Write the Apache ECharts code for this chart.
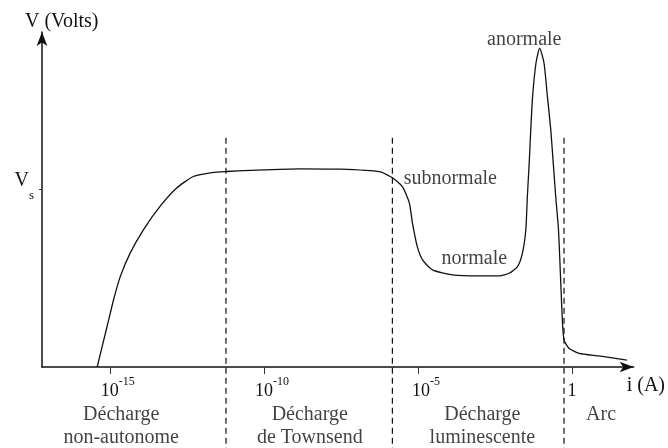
<!DOCTYPE html>
<html>
<head>
<meta charset="utf-8">
<script src="https://cdn.jsdelivr.net/npm/echarts@6/dist/echarts.min.js"></script>
<style>
  html, body { margin: 0; padding: 0; background: #fff; }
  #chart { width: 668px; height: 448px; }
</style>
</head>
<body>
<div id="chart"></div>
<script>
// x = log10 of current (decades), y = voltage in units of Vs
const currentExp = [-15.41, -15.09, -14.88, -14.66, -14.34, -13.91, -13.37, -12.83, -12.29, -11.64,
  -11.21, -10.46, -8.83, -7.54, -6.25, -5.83, -5.50, -5.28, -5.18, -5.02, -4.85, -4.53, -3.88,
  -3.01, -2.36, -2.04, -1.77, -1.61, -1.50, -1.45, -1.39, -1.34, -1.28, -1.17, -1.05, -0.91,
  -0.80, -0.69, -0.61, -0.53, -0.44, -0.37, -0.31, -0.26, -0.10, 0.23, 0.87, 1.78];
const voltage = [0, 0.226, 0.376, 0.507, 0.639, 0.770, 0.901, 1.004, 1.069, 1.092,
  1.097, 1.103, 1.112, 1.110, 1.096, 1.062, 1.011, 0.921, 0.809, 0.674, 0.601, 0.545, 0.517,
  0.511, 0.511, 0.526, 0.563, 0.639, 0.770, 0.957, 1.144, 1.331, 1.519, 1.706, 1.790, 1.706,
  1.519, 1.331, 1.144, 0.957, 0.770, 0.489, 0.245, 0.152, 0.105, 0.077, 0.062, 0.039];

const tickExps = [-15, -10, -5, 0];
const vsTick = [1];
const boundaries = [-11.23, -5.83, -0.26];
const boundaryTop = 1.287;
const boundaryBottom = -0.455;

const regionNames = ['Décharge\nnon-autonome', 'Décharge\nde Townsend', 'Décharge\nluminescente', 'Arc'];
const regionCenters = [-14.63, -8.51, -2.91, 0.94];
const regionY = [-0.33, -0.33, -0.33, -0.27];

const noteNames = ['subnormale', 'normale', 'anormale'];
const noteX = [-3.95, -3.17, -1.55];
const noteY = [1.056, 0.607, 1.837];

const serif = 'Liberation Serif';
const chart = echarts.init(document.getElementById('chart'));

const dashed = boundaries.map(b => ({
  type: 'line',
  data: [[b, boundaryTop], [b, boundaryBottom]],
  clip: false,
  showSymbol: false,
  silent: true,
  lineStyle: { color: '#111', width: 1.2, type: [6, 4] }
}));

const option = {
  animation: false,
  textStyle: { fontFamily: serif },
  title: {
    text: 'V (Volts)',
    left: 20,
    top: 7,
    textStyle: { fontFamily: serif, fontSize: 20, fontWeight: 'normal', color: '#111' }
  },
  grid: { left: 42, right: 33, top: 32, bottom: 81 },
  xAxis: {
    type: 'value',
    min: -17.2,
    max: 2.0,
    name: 'i (A)',
    nameLocation: 'end',
    nameGap: -7,
    nameTextStyle: { fontFamily: serif, fontSize: 20, color: '#111', align: 'left', verticalAlign: 'top', padding: [9, 0, 0, 0] },
    axisLine: { show: true, onZero: false, symbol: ['none', 'arrow'], symbolSize: [8, 14], lineStyle: { color: '#111', width: 1.5 } },
    axisTick: { show: true, customValues: tickExps, length: 7, lineStyle: { color: '#333' } },
    axisLabel: {
      customValues: tickExps,
      margin: 9,
      color: '#111',
      fontFamily: serif,
      formatter: v => v === 0 ? '{one|1}' : '{a|10}{sup|' + v + '}',
      rich: {
        a: { fontFamily: serif, fontSize: 18, lineHeight: 30, padding: [0, 0, 0, 16], color: '#111' },
        sup: { fontFamily: serif, fontSize: 12, lineHeight: 12, padding: [0, 0, 18, 0], color: '#111' },
        one: { fontFamily: serif, fontSize: 18, lineHeight: 30, color: '#111' }
      }
    },
    splitLine: { show: false }
  },
  yAxis: {
    type: 'value',
    min: 0,
    max: 1.88,
    axisLine: { show: true, onZero: false, symbol: ['none', 'arrow'], symbolSize: [8, 14], lineStyle: { color: '#111', width: 1.5 } },
    axisTick: { show: true, customValues: vsTick, length: 3, lineStyle: { color: '#333' } },
    axisLabel: {
      customValues: vsTick,
      margin: 8,
      formatter: () => '{v|V}{s|s}',
      rich: {
        v: { fontFamily: serif, fontSize: 20, padding: [0, 0, 16, 0], color: '#111' },
        s: { fontFamily: serif, fontSize: 13, padding: [14, 0, 0, 0], color: '#111' }
      }
    },
    splitLine: { show: false }
  },
  series: [
    {
      type: 'line',
      data: currentExp.map((e, i) => [e, voltage[i]]),
      smooth: 0.2,
      showSymbol: false,
      silent: true,
      lineStyle: { color: '#111', width: 1.3 }
    },
    ...dashed,
    {
      type: 'scatter',
      symbolSize: 0,
      clip: false,
      silent: true,
      data: noteNames.map((n, i) => ({ name: n, value: [noteX[i], noteY[i]] })),
      label: { show: true, position: 'inside', formatter: p => p.name, fontFamily: serif, fontSize: 20, color: '#111' }
    },
    {
      type: 'scatter',
      symbolSize: 0,
      clip: false,
      silent: true,
      data: regionNames.map((n, i) => ({ name: n, value: [regionCenters[i], regionY[i]] })),
      label: { show: true, position: 'inside', formatter: p => p.name, fontFamily: serif, fontSize: 20, lineHeight: 23, color: '#111' }
    }
  ]
};

chart.setOption(option);
</script>
</body>
</html>
